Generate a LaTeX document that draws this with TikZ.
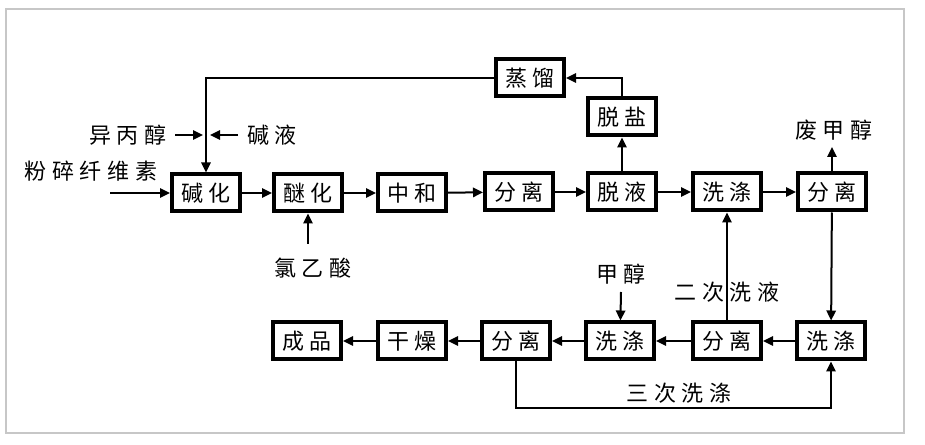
\documentclass[tikz,border=0pt]{standalone}
\usepackage{fontspec}
\newfontfamily\cjk[LetterSpace=26]{Noto Sans CJK SC}
\usetikzlibrary{arrows.meta}

\begin{document}
\begin{tikzpicture}[x=0.75pt, y=-0.75pt,
    box/.style={draw, line width=3pt, minimum width=51pt, minimum height=27.75pt, inner sep=0pt, font=\cjk\fontsize{16.5}{18}\selectfont},
    lbl/.style={inner sep=0pt, font=\cjk\fontsize{16.5}{18}\selectfont},
    arr/.style={-{Triangle[length=7.5pt,width=7pt]}, line width=1.5pt}
]
\useasboundingbox (0,0) rectangle (925,445);
\draw[black!22, line width=1.1pt] (6,9) rectangle (904,433);

% upper line
\node[box] (jh) at (206,193) {碱化};
\node[box] (mh) at (308,193) {醚化};
\node[box] (zh) at (412,193) {中和};
\node[box] (fl1) at (519,192) {分离};
\node[box] (ty) at (622,192) {脱液};
\node[box] (xd1) at (727,192) {洗涤};
\node[box] (fl2) at (832,192) {分离};
\node[box] (tyan) at (622,117) {脱盐};
\node[box] (zl) at (530,78) {蒸馏};

% lower line
\node[box] (xd2) at (831,341) {洗涤};
\node[box] (fl3) at (727,341) {分离};
\node[box] (xd3) at (620,341) {洗涤};
\node[box] (fl4) at (516,341) {分离};
\node[box] (gz) at (412,341) {干燥};
\node[box] (cp) at (307,341) {成品};

% labels
\node[lbl] (xw) at (91,171) {粉碎纤维素};
\node[lbl] (ybc) at (128,135) {异丙醇};
\node[lbl] (jy) at (272,135) {碱液};
\node[lbl] (lys) at (313,268) {氯乙酸};
\node[lbl] (fjc) at (834,130) {废甲醇};
\node[lbl] (jc) at (621,274) {甲醇};
\node[lbl] (ecx) at (727,292) {二次洗液};
\node[lbl] (scx) at (679,393) {三次洗涤};

\coordinate (xw0) at (110,193);
\coordinate (ybc0) at (175,135);
\coordinate (ybc1) at (203,135);
\coordinate (jy0) at (238,135);
\coordinate (jy1) at (210,135);
\coordinate (lys0) at (308,244);
\coordinate (fjc1) at (832,147);
\coordinate (jc0) at (621,292);

\draw[arr] (xw0) -- (jh);
\draw[arr] (ybc0) -- (ybc1);
\draw[arr] (jy0) -- (jy1);
\draw[arr] (lys0) -- (mh);
\draw[arr] (jh) -- (mh);
\draw[arr] (mh) -- (zh);
\draw[arr] (zh) -- (fl1);
\draw[arr] (fl1) -- (ty);
\draw[arr] (ty) -- (xd1);
\draw[arr] (xd1) -- (fl2);
\draw[arr] (ty) -- (tyan);
\draw[arr] (tyan.north) |- (zl.east);
\draw[arr] (zl.west) -| (jh.north);
\draw[arr] (fl2) -- (fjc1);
\draw[arr] (fl2) -- (xd2);
\draw[arr] (xd2) -- (fl3);
\draw[arr] (fl3) -- (xd3);
\draw[arr] (xd3) -- (fl4);
\draw[arr] (fl4) -- (gz);
\draw[arr] (gz) -- (cp);
\draw[arr] (jc0) -- (xd3);
\draw[arr] (fl3) -- (xd1);
\draw[arr] (fl4.south) -- ++(0,46) -| (xd2.south);
\end{tikzpicture}
\end{document}
